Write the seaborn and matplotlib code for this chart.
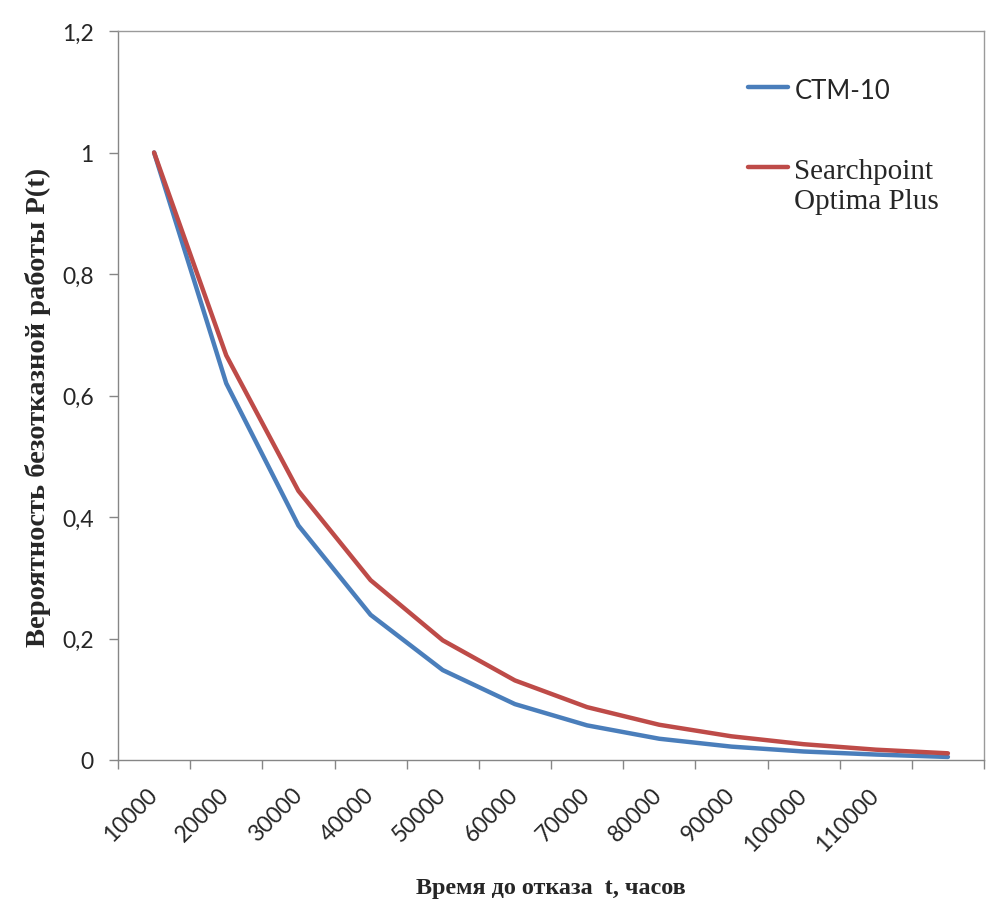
import matplotlib
matplotlib.use("Agg")
import matplotlib.pyplot as plt
import seaborn as sns
import pandas as pd
import numpy as np

categories = ["10000", "20000", "30000", "40000", "50000", "60000",
              "70000", "80000", "90000", "100000", "110000", ""]
ctm10 = [1.0, 0.62, 0.386, 0.239, 0.148, 0.092, 0.057, 0.035, 0.022, 0.014, 0.009, 0.005]
searchpoint = [1.0, 0.666, 0.443, 0.296, 0.197, 0.131, 0.087, 0.058, 0.039, 0.026, 0.017, 0.011]
series_names = ["CTM-10", "Searchpoint\nOptima Plus"]
y_ticks = [0, 0.2, 0.4, 0.6, 0.8, 1.0, 1.2]
y_tick_labels = ["0", "0,2", "0,4", "0,6", "0,8", "1", "1,2"]
x_label = "Время до отказа  t, часов"
y_label = "Вероятность безотказной работы P(t)"

sns.set_style("white")
plt.rcParams["font.family"] = ["Lato", "DejaVu Sans"]

pos = np.arange(len(categories))
df = pd.concat([
    pd.DataFrame({"pos": pos, "P": ctm10, "series": series_names[0]}),
    pd.DataFrame({"pos": pos, "P": searchpoint, "series": series_names[1]}),
])

fig = plt.figure(figsize=(10.07, 9.04), dpi=100)
W, H = 1007, 904
left, right, top, bottom = 118, 984, 32, 761
ax = fig.add_axes([left / W, 1 - bottom / H, (right - left) / W, (bottom - top) / H])

colors = {series_names[0]: "#4A7EBB", series_names[1]: "#BE4B48"}
sns.lineplot(data=df, x="pos", y="P", hue="series", palette=colors,
             linewidth=3.2, ax=ax, legend=False, sort=False)

n = len(categories)
ax.set_xlim(-0.5, n - 0.5)
ax.set_ylim(0, 1.2)

# major ticks at category boundaries (marks only), minor ticks at centers (labels only)
ax.set_xticks(np.arange(n + 1) - 0.5)
ax.set_xticklabels([])
ax.set_xticks(pos, minor=True)
ax.set_xticklabels(categories, minor=True, rotation=45, ha="right",
                   va="center", rotation_mode="anchor", fontsize=16.5)
ax.tick_params(axis="x", which="major", direction="out", length=6.5,
               width=1, color="#868686", bottom=True)
ax.tick_params(axis="x", which="minor", length=0, pad=22.5)

ax.set_yticks(y_ticks)
ax.set_yticklabels(y_tick_labels, fontsize=16.5)
ax.tick_params(axis="y", direction="out", length=6.5, width=1,
               color="#868686", pad=11, left=True)

for s in ax.spines.values():
    s.set_color("#9a9a9a")
    s.set_linewidth(1)
ax.spines["left"].set_color("#868686")
ax.spines["bottom"].set_color("#868686")

serif = ["Liberation Serif", "DejaVu Serif"]
ax.set_xlabel(x_label, fontsize=17.4, fontweight="bold", family=serif)
ax.set_ylabel(y_label, fontsize=20.5, fontweight="bold", family=serif)
ax.xaxis.set_label_coords(0.5, -0.1605)
ax.xaxis.label.set_va("top")
ax.yaxis.set_label_coords(-0.077, 0.485)

lines = ax.get_lines()[:2]
leg = fig.legend(lines, series_names, loc="upper left",
                 bbox_to_anchor=(748 / W, 1 - 79 / H),
                 frameon=False, fontsize=18.5, handlelength=1.55,
                 handletextpad=0.25, labelspacing=2.15,
                 borderpad=0, borderaxespad=0)
leg.texts[0].set_fontfamily(["Lato", "DejaVu Sans"])
leg.texts[1].set_fontfamily(serif)
leg.texts[1].set_fontsize(21)
leg.texts[1].set_linespacing(1.17)
for ln in leg.get_lines():
    ln.set_linewidth(3.2)
try:
    for col in leg._legend_handle_box.get_children():
        for row in col.get_children():
            row.align = "top"
except Exception:
    pass

fig.savefig("out.png", dpi=100)
